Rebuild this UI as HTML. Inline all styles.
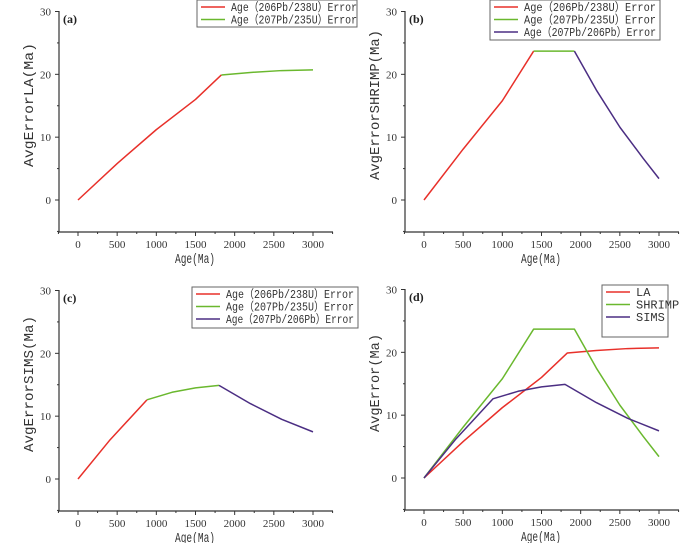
<!DOCTYPE html>
<html><head><meta charset="utf-8"><style>
body{margin:0;background:#fff;width:700px;height:543px;overflow:hidden}
svg{font-family:"Liberation Serif",serif;}
.m{font-family:"Liberation Mono","Noto Sans CJK SC",monospace;}
</style></head><body>
<svg id="c" width="700" height="543"></svg>
<script>
const xTicks=[0,500,1000,1500,2000,2500,3000];
const yTicks=[0,10,20,30];
// LA series
const laRedX=[0,500,1000,1500,1830];
const laRedY=[0,5.8,11.2,16.0,19.9];
const laGreenX=[1830,2200,2600,3000];
const laGreenY=[19.9,20.3,20.6,20.7];
// SHRIMP series
const shRedX=[0,500,1000,1400];
const shRedY=[0,8.1,15.8,23.7];
const shGreenX=[1400,1920];
const shGreenY=[23.7,23.7];
const shPurpX=[1920,2200,2500,2800,3000];
const shPurpY=[23.7,17.5,11.6,6.6,3.4];
// SIMS series
const siRedX=[0,400,880];
const siRedY=[0,6.1,12.6];
const siGreenX=[880,1200,1500,1800];
const siGreenY=[12.6,13.8,14.5,14.9];
const siPurpX=[1800,2200,2600,3000];
const siPurpY=[14.9,12,9.5,7.5];

const RED="#e8302a",GREEN="#6ab82e",PURP="#4b2e83";
const NS="http://www.w3.org/2000/svg";
const svg=document.getElementById('c');
function mk(tag,attrs,parent){const e=document.createElementNS(NS,tag);for(const k in attrs)e.setAttribute(k,attrs[k]);(parent||svg).appendChild(e);return e;}

function panel(id,dx,dy,label,ylabel,ylen,series,legend){
  const g=mk('g',{transform:`translate(${dx},${dy})`});
  
  
  const sx=v=>78+v*(235/3000), sy=v=>200-v*(188.5/30);
  const ax=mk('path',{d:`M59,11 V232 H333`,stroke:'#333',fill:'none','stroke-width':1.2},g);
  
  
  for(let v=-250;v<=3250;v+=250){const x=sx(v);const major=v%500===0&&v>=0;
    mk('line',{x1:x,x2:x,y1:232,y2:major?236:234,stroke:'#333'},g);}
  xTicks.forEach(v=>{const t=mk('text',{x:sx(v),y:248,'font-size':11,'text-anchor':'middle',fill:'#333'},g);t.textContent=v;
    });
  for(let v=-5;v<=30;v+=5){const y=sy(v);const major=v%10===0&&v>=0;
    mk('line',{x1:major?55:57,x2:59,y1:y,y2:y,stroke:'#333'},g);}
  yTicks.forEach(v=>{const t=mk('text',{x:51,y:sy(v)+4,'font-size':11,'text-anchor':'end',fill:'#333'},g);t.textContent=v;
    });
  const xl=mk('text',{x:195,y:263,'font-size':14,'text-anchor':'middle',fill:'#333',class:'m',textLength:40,lengthAdjust:'spacingAndGlyphs'},g);xl.textContent='Age(Ma)';
  
  const yl=mk('text',{x:0,y:0,'font-size':14,'text-anchor':'middle',fill:'#333',class:'m',textLength:ylen,lengthAdjust:'spacingAndGlyphs',transform:'translate(33,105) rotate(-90)'},g);yl.textContent=ylabel;
  
  const pl=mk('text',{x:63,y:23,'font-size':12,'font-weight':'bold',fill:'#222'},g);pl.textContent=label;
  
  series.forEach(s=>{const p=mk('polyline',{points:s.x.map((v,i)=>sx(v)+','+sy(s.y[i])).join(' '),fill:'none',stroke:s.c,'stroke-width':1.5,'stroke-linejoin':'round'},g);
    });
  const lg=mk('g',{},g);
  
  mk('rect',{x:legend.x,y:legend.y,width:legend.w,height:legend.h,fill:'#fff',stroke:'#666'},lg);
  legend.items.forEach((it,i)=>{const y=legend.y+7+i*12.5;
    mk('line',{x1:legend.x+4,x2:legend.x+4+legend.lw,y1:y,y2:y,stroke:it.c,'stroke-width':1.5},lg);
    const t=mk('text',{x:legend.x+10+legend.lw,y:y+4,'font-size':12,fill:'#333',class:'m'},lg);t.textContent=it.t;
    if(legend.tl){t.setAttribute('textLength',legend.tl);t.setAttribute('lengthAdjust','spacingAndGlyphs');}
    });
}
const T1='Age（206Pb/238U）Error',T2='Age（207Pb/235U）Error',T3='Age（207Pb/206Pb）Error';
panel('panel-a',0,0,'(a)','AvgErrorLA(Ma)',124,
  [{x:laRedX,y:laRedY,c:RED},{x:laGreenX,y:laGreenY,c:GREEN}],
  {x:197,y:0,w:160,h:27,lw:24,tl:126,items:[{t:T1,c:RED},{t:T2,c:GREEN}]});
panel('panel-b',346,0,'(b)','AvgErrorSHRIMP(Ma)',150,
  [{x:shRedX,y:shRedY,c:RED},{x:shGreenX,y:shGreenY,c:GREEN},{x:shPurpX,y:shPurpY,c:PURP}],
  {x:144,y:0,w:170,h:40,lw:24,tl:132,items:[{t:T1,c:RED},{t:T2,c:GREEN},{t:T3,c:PURP}]});
panel('panel-c',0,279,'(c)','AvgErrorSIMS(Ma)',136,
  [{x:siRedX,y:siRedY,c:RED},{x:siGreenX,y:siGreenY,c:GREEN},{x:siPurpX,y:siPurpY,c:PURP}],
  {x:192,y:8,w:166,h:41,lw:24,tl:128,items:[{t:T1,c:RED},{t:T2,c:GREEN},{t:T3,c:PURP}]});
panel('panel-d',346,278,'(d)','AvgError(Ma)',98,
  [{x:laRedX.concat(laGreenX),y:laRedY.concat(laGreenY),c:RED},
   {x:shRedX.concat(shGreenX,shPurpX),y:shRedY.concat(shGreenY,shPurpY),c:GREEN},
   {x:siRedX.concat(siGreenX,siPurpX),y:siRedY.concat(siGreenY,siPurpY),c:PURP}],
  {x:256,y:7,w:66,h:52,lw:24,items:[{t:'LA',c:RED},{t:'SHRIMP',c:GREEN},{t:'SIMS',c:PURP}]});
</script>
</body></html>
